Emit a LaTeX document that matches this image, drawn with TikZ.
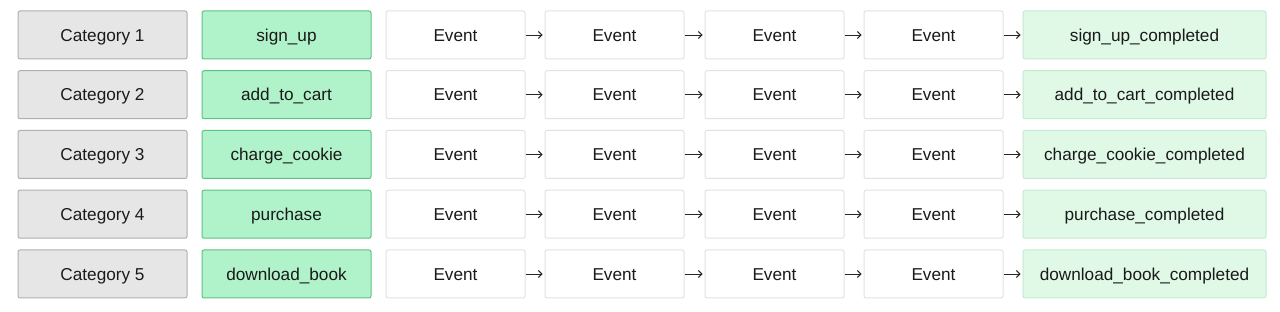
\documentclass[tikz,border=0pt]{standalone}
\usepackage{fontspec}
\setmainfont{Liberation Sans}
\usetikzlibrary{arrows.meta}
\definecolor{catfill}{HTML}{E6E6E6}
\definecolor{catdraw}{HTML}{B0B0B0}
\definecolor{grfill}{HTML}{B0F2C9}
\definecolor{grdraw}{HTML}{5EC286}
\definecolor{evdraw}{HTML}{E2E2E2}
\definecolor{cpfill}{HTML}{E0F8E6}
\definecolor{cpdraw}{HTML}{C4EBD1}
\definecolor{txt}{HTML}{1A1A1A}
\tikzset{
  box/.style={rectangle, rounded corners=2pt, line width=1pt, minimum height=48pt, inner sep=0pt, text height=16pt, text depth=3.8pt, text=txt, font=\fontsize{17.2}{20}\selectfont, anchor=center},
  catbox/.style={box, fill=catfill, draw=catdraw, minimum width=169pt},
  grbox/.style={box, fill=grfill, draw=grdraw, minimum width=169pt},
  evbox/.style={box, fill=white, draw=evdraw, minimum width=139pt},
  cpbox/.style={box, fill=cpfill, draw=cpdraw, minimum width=243pt},
  flow/.style={line width=0.9pt, black!85, -{Straight Barb[length=3.5pt,width=7pt]}, shorten >=2pt}
}
\begin{document}
\begin{tikzpicture}[x=1pt,y=-1pt]
\fill[white] (0,0) rectangle (1280,312);
\useasboundingbox (0,0) rectangle (1280,312);
\foreach \r/\cat/\ev in {1/Category 1/sign\_up, 2/Category 2/add\_to\_cart, 3/Category 3/charge\_cookie, 4/Category 4/purchase, 5/Category 5/download\_book}{
  \pgfmathsetmacro{\cy}{35+59.75*(\r-1)}
  \node[catbox] (c\r) at (102.5,\cy) {\cat};
  \node[grbox] (g\r) at (286.5,\cy) {\ev};
  \node[evbox] (e\r-1) at (455.5,\cy) {Event};
  \node[evbox] (e\r-2) at (614.5,\cy) {Event};
  \node[evbox] (e\r-3) at (774.5,\cy) {Event};
  \node[evbox] (e\r-4) at (933.5,\cy) {Event};
  \node[cpbox] (f\r) at (1144.5,\cy) {\ev\_completed};
  \draw[flow] (e\r-1.east) -- (e\r-2.west);
  \draw[flow] (e\r-2.east) -- (e\r-3.west);
  \draw[flow] (e\r-3.east) -- (e\r-4.west);
  \draw[flow] (e\r-4.east) -- (f\r.west);
}
\end{tikzpicture}
\end{document}
